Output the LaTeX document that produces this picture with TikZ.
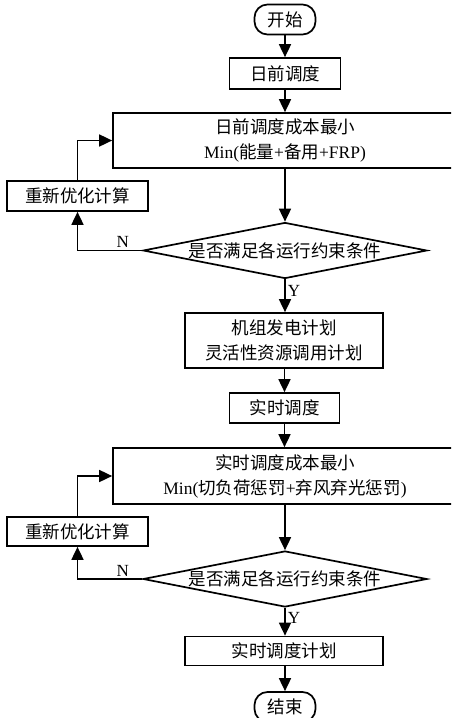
\documentclass[tikz,border=0pt]{standalone}
\usepackage{fontspec}
\setmainfont{Liberation Serif}
\newfontfamily\cjk{Noto Sans CJK SC}
\usetikzlibrary{arrows.meta,shapes.geometric}
\newcommand{\zh}[1]{{\cjk #1}}

\tikzset{
  flowbox/.style={draw,line width=1.7pt,inner sep=0pt,align=center,
    font=\fontsize{17.5}{25}\selectfont},
  flowend/.style={flowbox,rounded corners=13pt,minimum width=61pt,minimum height=30pt},
  flowcheck/.style={flowbox,diamond,aspect=5.07,minimum width=284pt,minimum height=56pt},
  flowarrow/.style={line width=1.7pt,-{Triangle[length=13pt,width=12pt]}},
  yesno/.style={font=\fontsize{17}{19}\selectfont,inner sep=2pt}
}

\begin{document}
\begin{tikzpicture}[x=1pt,y=-1pt]
  \useasboundingbox (0,0) rectangle (451,718);
  \clip (0,0) rectangle (451,718);

  % day-ahead part
  \node[flowend] (start) at (285,19.5) {\zh{开始}};
  \node[flowbox,minimum width=111pt,minimum height=31pt] (dayahead) at (285,73.5) {\zh{日前调度}};
  \node[flowbox,minimum width=344pt,minimum height=55pt] (dacost) at (285,140.5)
    {\zh{日前调度成本最小}\\Min(\zh{能量}+\zh{备用}+FRP)};
  \node[flowbox,minimum width=141pt,minimum height=30pt] (daretry) at (77.5,196) {\zh{重新优化计算}};
  \node[flowcheck] (dacheck) at (285,250.5) {\zh{是否满足各运行约束条件}};
  \node[flowbox,minimum width=198pt,minimum height=55pt] (plan) at (284,340.5)
    {\zh{机组发电计划}\\\zh{灵活性资源调用计划}};

  % real-time part
  \node[flowbox,minimum width=110pt,minimum height=30pt] (realtime) at (284.5,408) {\zh{实时调度}};
  \node[flowbox,minimum width=344pt,minimum height=56pt] (rtcost) at (285,476)
    {\zh{实时调度成本最小}\\Min(\zh{切负荷惩罚}+\zh{弃风弃光惩罚})};
  \node[flowbox,minimum width=141pt,minimum height=29pt] (rtretry) at (77.5,531.5) {\zh{重新优化计算}};
  \node[flowcheck] (rtcheck) at (285,579) {\zh{是否满足各运行约束条件}};
  \node[flowbox,minimum width=198pt,minimum height=29pt] (rtplan) at (284,651) {\zh{实时调度计划}};
  \node[flowend] (stop) at (285,707) {\zh{结束}};

  \draw[flowarrow] (start) -- (dayahead);
  \draw[flowarrow] (dayahead) -- (dacost);
  \draw[flowarrow] (dacost.south -| dacheck) -- (dacheck);
  \draw[flowarrow] (dacheck) -- node[yesno,right,pos=0.35] {Y} (dacheck |- plan.north);
  \draw[flowarrow] (dacheck.west) -| node[yesno,above,pos=0.15] {N} (daretry.south);
  \draw[flowarrow] (daretry.north) |- (dacost.west);

  \draw[flowarrow] (plan.south -| realtime) -- (realtime);
  \draw[flowarrow] (realtime) -- (realtime |- rtcost.north);
  \draw[flowarrow] (rtcost.south -| rtcheck) -- (rtcheck);
  \draw[flowarrow] (rtcheck) -- node[yesno,right,pos=0.35] {Y} (rtcheck |- rtplan.north);
  \draw[flowarrow] (rtcheck.west) -| node[yesno,above,pos=0.15] {N} (rtretry.south);
  \draw[flowarrow] (rtretry.north) |- (rtcost.west);
  \draw[flowarrow] (rtplan.south -| stop) -- (stop);
\end{tikzpicture}
\end{document}
